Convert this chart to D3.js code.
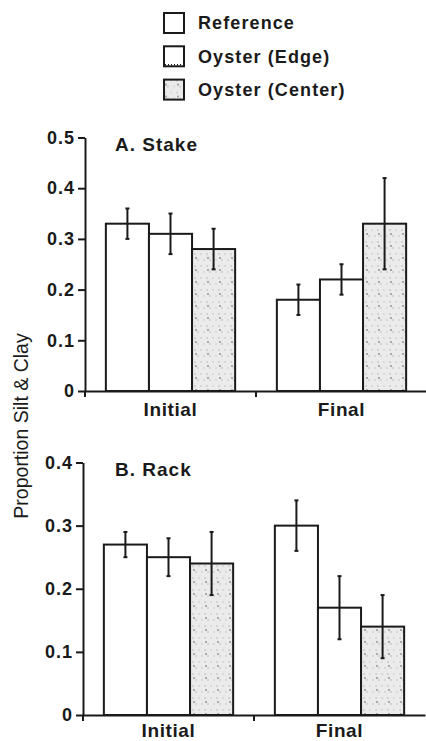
<!DOCTYPE html>
<html>
<head>
<meta charset="utf-8">
<script src="https://cdn.jsdelivr.net/npm/d3@7"></script>
<style>
  body { margin: 0; background: #fff; }
  svg { display: block; font-family: "Liberation Sans", Arial, sans-serif; }
  .axis path, .axis line { stroke: #1a1a1a; stroke-width: 2; }
  .axis text { fill: #1a1a1a; font-size: 18px; font-weight: bold; letter-spacing: 1px; }
</style>
</head>
<body>
<svg width="426" height="741"></svg>
<script>
// data
var categories = ["Initial", "Final"];
var series = ["Reference", "Oyster (Edge)", "Oyster (Center)"];
var stakeMeans = [[0.33, 0.31, 0.28], [0.18, 0.22, 0.33]];
var stakeErrors = [[0.03, 0.04, 0.04], [0.03, 0.03, 0.09]];
var rackMeans = [[0.27, 0.25, 0.24], [0.30, 0.17, 0.14]];
var rackErrors = [[0.02, 0.03, 0.05], [0.04, 0.05, 0.05]];
var stakeTicks = [0, 0.1, 0.2, 0.3, 0.4, 0.5];
var rackTicks = [0, 0.1, 0.2, 0.3, 0.4];

var svg = d3.select("svg");
var ink = "#1a1a1a";

// stipple fill for the center bars
var defs = svg.append("defs");
var pat = defs.append("pattern")
    .attr("id", "stipple")
    .attr("patternUnits", "userSpaceOnUse")
    .attr("width", 12).attr("height", 12);
pat.append("rect").attr("width", 12).attr("height", 12).attr("fill", "#ebebeb");
[[2, 2, "#b5b5b5"], [8, 2, "#c4c4c4"], [5, 8, "#b5b5b5"], [11, 8, "#c4c4c4"], [3, 6, "#555"]].forEach(function(p) {
    pat.append("circle").attr("cx", p[0]).attr("cy", p[1]).attr("r", 0.8).attr("fill", p[2]);
});

function fillFor(i) { return i == 2 ? "url(#stipple)" : "#fff"; }

// legend
var legend = svg.append("g").attr("transform", "translate(163,12)");
series.forEach(function(s, i) {
    var row = legend.append("g").attr("transform", "translate(0," + (i * 33.3) + ")");
    row.append("rect")
        .attr("x", 1).attr("y", 1).attr("width", 20).attr("height", 20)
        .attr("fill", fillFor(i)).attr("stroke", ink).attr("stroke-width", 2);
    if (i == 1) { // dotted bottom edge like the scan
        row.append("line").attr("x1", 2).attr("x2", 20).attr("y1", 19.5).attr("y2", 19.5)
            .attr("stroke", ink).attr("stroke-width", 1.5).attr("stroke-dasharray", "1,2");
    }
    row.append("text")
        .attr("x", 35).attr("y", 11).attr("dy", "0.35em")
        .attr("fill", ink)
        .style("font-size", "18px").style("font-weight", "bold").style("letter-spacing", "1.1px")
        .text(s);
});

// panels
var panels = [
    { title: "A. Stake", means: stakeMeans, errors: stakeErrors, ticks: stakeTicks, left: 85, top: 137.5, bottom: 391, pad: 12 },
    { title: "B. Rack", means: rackMeans, errors: rackErrors, ticks: rackTicks, left: 83, top: 462.5, bottom: 715, pad: 9 }
];

panels.forEach(function(p) {
    var g = svg.append("g");
    var x0 = d3.scaleBand().domain(categories).range([p.left, p.left + 342]);
    var x1 = d3.scaleBand().domain(series)
        .range([x0.bandwidth() * 0.122, x0.bandwidth() * 0.878]);
    var y = d3.scaleLinear().domain([0, d3.max(p.ticks)]).range([p.bottom, p.top]);

    // bars
    categories.forEach(function(c, ci) {
        var grp = g.append("g").attr("transform", "translate(" + x0(c) + ",0)");
        grp.selectAll(".bar")
            .data(p.means[ci])
            .enter().append("rect")
            .attr("class", "bar")
            .attr("x", function(d, i) { return x1(series[i]); })
            .attr("y", function(d) { return y(d); })
            .attr("width", x1.bandwidth())
            .attr("height", function(d) { return y(0) - y(d); })
            .attr("fill", function(d, i) { return fillFor(i); })
            .attr("stroke", ink).attr("stroke-width", 2);

        // error bars
        var eb = grp.selectAll(".err")
            .data(p.means[ci])
            .enter().append("g").attr("class", "err")
            .attr("transform", function(d, i) { return "translate(" + (x1(series[i]) + x1.bandwidth() / 2) + ",0)"; });
        eb.append("line")
            .attr("y1", function(d, i) { return y(d - p.errors[ci][i]); })
            .attr("y2", function(d, i) { return y(d + p.errors[ci][i]); })
            .attr("stroke", ink).attr("stroke-width", 2);
        eb.append("line")
            .attr("x1", -2).attr("x2", 2)
            .attr("y1", function(d, i) { return y(d + p.errors[ci][i]); })
            .attr("y2", function(d, i) { return y(d + p.errors[ci][i]); })
            .attr("stroke", ink).attr("stroke-width", 2);
        eb.append("line")
            .attr("x1", -2).attr("x2", 2)
            .attr("y1", function(d, i) { return y(d - p.errors[ci][i]); })
            .attr("y2", function(d, i) { return y(d - p.errors[ci][i]); })
            .attr("stroke", ink).attr("stroke-width", 2);
    });

    // y axis
    g.append("g")
        .attr("class", "axis")
        .attr("transform", "translate(" + p.left + ",0)")
        .call(d3.axisLeft(y).tickValues(p.ticks).tickSize(7).tickSizeOuter(0).tickPadding(3)
            .tickFormat(function(d) { return d == 0 ? "0" : d3.format(".1f")(d); }));
    g.append("line") // axis runs a little below zero
        .attr("x1", p.left).attr("x2", p.left)
        .attr("y1", y(0)).attr("y2", y(0) + 6)
        .attr("stroke", ink).attr("stroke-width", 2);

    // x axis
    var xa = g.append("g")
        .attr("class", "axis")
        .attr("transform", "translate(0," + y(0) + ")")
        .call(d3.axisBottom(x0).tickSize(0).tickSizeOuter(0).tickPadding(p.pad));
    xa.selectAll("text").style("font-size", "19px").style("letter-spacing", "0.6px");
    g.append("line") // tick between the groups
        .attr("x1", x0("Final")).attr("x2", x0("Final"))
        .attr("y1", y(0)).attr("y2", y(0) + 6)
        .attr("stroke", ink).attr("stroke-width", 2);

    // panel title
    g.append("text")
        .attr("x", 115).attr("y", y(d3.max(p.ticks)) + 7).attr("dy", "0.35em")
        .attr("fill", ink)
        .style("font-size", "19px").style("font-weight", "bold").style("letter-spacing", "1px")
        .text(p.title);
});

// shared y label
svg.append("text")
    .attr("transform", "translate(28,426) rotate(-90)")
    .attr("text-anchor", "middle")
    .attr("fill", ink)
    .style("font-size", "19.5px")
    .text("Proportion Silt & Clay");
</script>
</body>
</html>
